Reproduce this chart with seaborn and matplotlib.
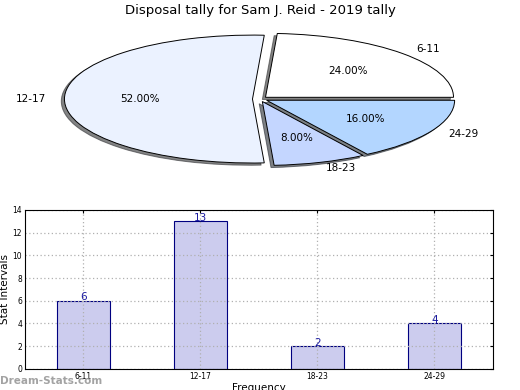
import pandas as pd
import seaborn as sns
import matplotlib.pyplot as plt

# tally data
groups = ['6-11', '12-17', '18-23', '24-29']
counts = [6, 13, 2, 4]
pie_colors = ['#ffffff', '#ebf2ff', '#c4d6ff', '#b3d6ff']

df = pd.DataFrame({'group': groups, 'count': counts})

sns.set_style('white')
plt.rcParams['font.family'] = ['DejaVu Sans']
plt.rcParams['text.color'] = 'black'
plt.rcParams['axes.labelcolor'] = 'black'
plt.rcParams['xtick.color'] = 'black'
plt.rcParams['ytick.color'] = 'black'

fig = plt.figure(figsize=(5.2, 3.9), dpi=100)

# pie on top
ax1 = fig.add_axes([0.048, 0.541, 0.904, 0.41])
ax1.pie(df['count'], labels=df['group'], colors=pie_colors,
        explode=[0.04] * 4,
        shadow={'ox': -0.012, 'oy': -0.025, 'shade': 0.8, 'alpha': 0.6},
        startangle=0, autopct='%1.2f%%',
        textprops={'fontsize': 7.5, 'color': 'black'},
        wedgeprops={'edgecolor': 'black', 'linewidth': 0.7})
ax1.set_aspect('auto')
ax1.set_xlim(-1.25, 1.25)
ax1.set_ylim(-1.25, 1.25)
fig.text(0.5, 0.973, 'Disposal tally for Sam J. Reid - 2019 tally',
         ha='center', va='center', fontsize=9.5)

# bars below
ax2 = fig.add_axes([0.048, 0.054, 0.9, 0.408])
sns.barplot(data=df, x='group', y='count', ax=ax2, color='#ccccee',
            edgecolor='#000080', linewidth=0.8, width=0.45, saturation=1)
for i, v in enumerate(counts):
    ax2.text(i, v - 0.15, str(v), ha='center', va='bottom',
             color='#1a1aa0', fontsize=7.5)

ax2.set_xlim(-0.5, 3.5)
ax2.set_ylim(0, 14)
ax2.set_yticks(range(0, 15, 2))
ax2.grid(True, linestyle=(0, (1, 2)), color='#b0b0b0', linewidth=0.9)
ax2.set_axisbelow(False)
ax2.tick_params(labelsize=5.5, direction='in', right=True, top=True,
                length=2, pad=2)
for s in ax2.spines.values():
    s.set_color('black')
    s.set_linewidth(0.8)
    s.set_zorder(5)
ax2.set_ylabel('Stat Intervals', fontsize=7.5, labelpad=2)
ax2.set_xlabel('Frequency', fontsize=7.5, labelpad=2)

fig.text(0.0, 0.022, 'Dream-Stats.com', color='#999999', fontsize=7.5,
         fontweight='bold', ha='left', va='center', alpha=0.9)

fig.savefig('out.png', dpi=100)
